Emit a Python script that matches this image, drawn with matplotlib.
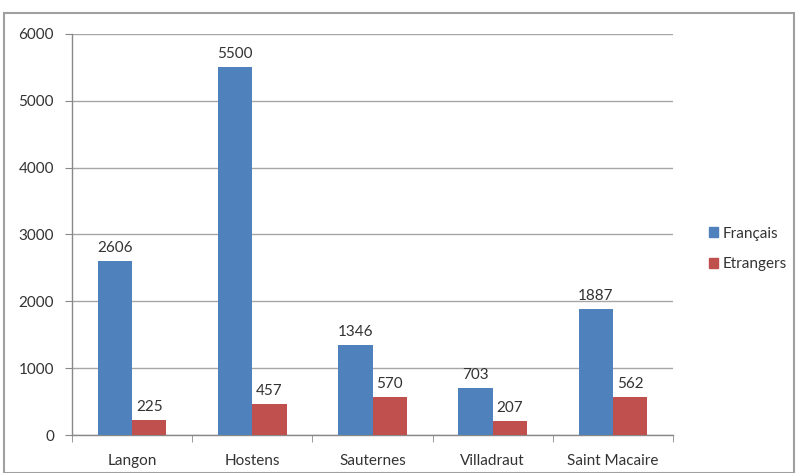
import matplotlib
matplotlib.use("Agg")
import matplotlib.pyplot as plt
import numpy as np
from matplotlib.patches import Rectangle, Patch

categories = ["Langon", "Hostens", "Sauternes", "Villadraut", "Saint Macaire"]
francais = [2606, 5500, 1346, 703, 1887]
etrangers = [225, 457, 570, 207, 562]
series_names = ["Français", "Etrangers"]
yticks = [0, 1000, 2000, 3000, 4000, 5000, 6000]

plt.rcParams['font.family'] = ['Lato', 'DejaVu Sans']
blue = "#4F81BD"
red = "#C0504D"
txt = "#333333"
fs = 11

fig = plt.figure(figsize=(7.98, 4.73), dpi=100)
ax = fig.add_axes([72/798, 1-435/473, (673-72)/798, (435-34)/473])

x = np.arange(len(categories))
w = 0.285
b1 = ax.bar(x - w/2, francais, w, color=blue, label=series_names[0], zorder=3)
b2 = ax.bar(x + w/2, etrangers, w, color=red, label=series_names[1], zorder=3)
for bars, vals in ((b1, francais), (b2, etrangers)):
    for r, v in zip(bars, vals):
        ax.text(r.get_x() + r.get_width()/2, v + 90, str(v), ha="center", va="bottom",
                fontsize=fs, color=txt)

ax.set_xlim(-0.5, len(categories) - 0.5)
ax.set_ylim(0, 6000)
ax.set_yticks(yticks)
ax.set_yticklabels([str(t) for t in yticks], fontsize=fs, color=txt)
ax.yaxis.grid(True, color="#A6A6A6", linewidth=1, zorder=0)
ax.set_axisbelow(True)

ax.set_xticks(x)
ax.set_xticklabels(categories, fontsize=fs, color=txt)
ax.tick_params(axis="x", length=0, pad=14)
ax.set_xticks(np.arange(-0.5, len(categories), 1), minor=True)
ax.tick_params(axis="x", which="minor", length=5, color="#888888", direction="out")
ax.tick_params(axis="y", length=5, color="#888888", direction="out", pad=8)

for s in ("top", "right"):
    ax.spines[s].set_visible(False)
for s in ("left", "bottom"):
    ax.spines[s].set_color("#888888")
    ax.spines[s].set_linewidth(1)

handles = [Patch(color=blue, label=series_names[0]), Patch(color=red, label=series_names[1])]
leg = fig.legend(handles=handles, loc="center left", bbox_to_anchor=(695/798, 1-249/473),
                 frameon=False, fontsize=fs, handlelength=0.6, handleheight=0.6,
                 handletextpad=0.3, labelspacing=1.1)
for t in leg.get_texts():
    t.set_color(txt)

fig.patches.append(Rectangle((4/798, 0), (794-4)/798, 1-13/473, transform=fig.transFigure,
                             fill=False, edgecolor="#A0A0A0", linewidth=1.5))

fig.savefig("out.png", dpi=100, facecolor="white")
